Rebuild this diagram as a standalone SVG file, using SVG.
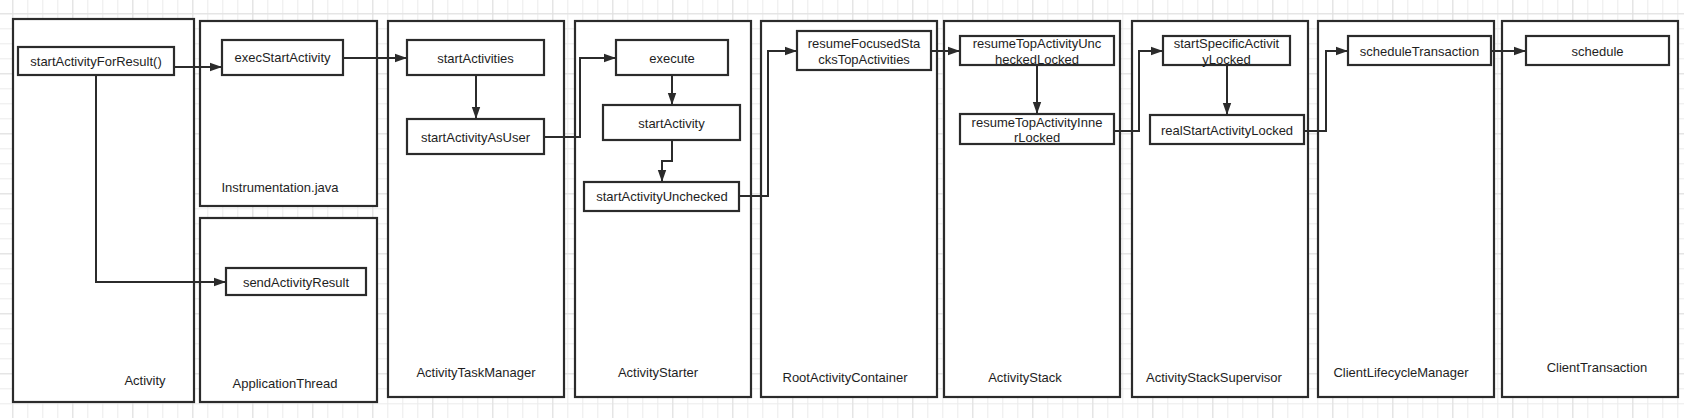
<svg xmlns="http://www.w3.org/2000/svg" width="1684" height="418" viewBox="0 0 1684 418">
  <defs>
    <pattern id="gridMinor" patternUnits="userSpaceOnUse" x="12.3" y="13.3" width="15" height="15">
      <path d="M0,0.5 H15 M0.5,0 V15" fill="none" stroke="#ebebeb" stroke-width="1"/>
    </pattern>
    <pattern id="gridMajor" patternUnits="userSpaceOnUse" x="12.3" y="13.3" width="60" height="60">
      <path d="M0,0.5 H60 M0.5,0 V60" fill="none" stroke="#e0e0e0" stroke-width="1"/>
    </pattern>
    <marker id="arrow" markerUnits="userSpaceOnUse" markerWidth="13" markerHeight="10" refX="12" refY="5" orient="auto">
      <path d="M0,0.8 L12,5 L0,9.2 z" fill="#2b2b2b"/>
    </marker>
  </defs>
  <style>
    .container { fill: #ffffff; stroke: #2b2b2b; stroke-width: 2.2; }
    .method { fill: #ffffff; stroke: #2b2b2b; stroke-width: 2.2; }
    .label { font-family: "Liberation Sans", Arial, sans-serif; font-size: 13px; fill: #1e1e1e; text-anchor: middle; }
    .conn { fill: none; stroke: #2b2b2b; stroke-width: 2; marker-end: url(#arrow); }
  </style>

  <rect x="0" y="0" width="1684" height="418" fill="#ffffff"/>
  <rect x="0" y="0" width="1684" height="418" fill="url(#gridMinor)"/>
  <rect x="0" y="0" width="1684" height="418" fill="url(#gridMajor)"/>

  <!-- Containers -->
  <g id="activity">
    <rect class="container" x="13" y="19" width="181" height="383"/>
    <text class="label" x="145" y="385">Activity</text>
  </g>
  <g id="instrumentation">
    <rect class="container" x="200" y="21" width="177" height="185"/>
    <text class="label" x="280" y="192">Instrumentation.java</text>
  </g>
  <g id="applicationThread">
    <rect class="container" x="200" y="218" width="177" height="184"/>
    <text class="label" x="285" y="388">ApplicationThread</text>
  </g>
  <g id="activityTaskManager">
    <rect class="container" x="388" y="21" width="176" height="376"/>
    <text class="label" x="476" y="377">ActivityTaskManager</text>
  </g>
  <g id="activityStarter">
    <rect class="container" x="575" y="21" width="176" height="376"/>
    <text class="label" x="658" y="377">ActivityStarter</text>
  </g>
  <g id="rootActivityContainer">
    <rect class="container" x="761" y="21" width="176" height="376"/>
    <text class="label" x="845" y="382">RootActivityContainer</text>
  </g>
  <g id="activityStack">
    <rect class="container" x="944" y="21" width="176" height="376"/>
    <text class="label" x="1025" y="382">ActivityStack</text>
  </g>
  <g id="activityStackSupervisor">
    <rect class="container" x="1132" y="21" width="176" height="376"/>
    <text class="label" x="1214" y="382">ActivityStackSupervisor</text>
  </g>
  <g id="clientLifecycleManager">
    <rect class="container" x="1318" y="21" width="176" height="376"/>
    <text class="label" x="1401" y="377">ClientLifecycleManager</text>
  </g>
  <g id="clientTransaction">
    <rect class="container" x="1502" y="21" width="176" height="376"/>
    <text class="label" x="1597" y="372">ClientTransaction</text>
  </g>

  <!-- Method nodes -->
  <g id="startActivityForResult">
    <rect class="method" x="18" y="47" width="156" height="28"/>
    <text class="label" x="96" y="66">startActivityForResult()</text>
  </g>
  <g id="execStartActivity">
    <rect class="method" x="222" y="40" width="121" height="35"/>
    <text class="label" x="282.5" y="62">execStartActivity</text>
  </g>
  <g id="sendActivityResult">
    <rect class="method" x="226" y="268" width="140" height="27"/>
    <text class="label" x="296" y="287">sendActivityResult</text>
  </g>
  <g id="startActivities">
    <rect class="method" x="407" y="40" width="137" height="35"/>
    <text class="label" x="475.5" y="63">startActivities</text>
  </g>
  <g id="startActivityAsUser">
    <rect class="method" x="407" y="119" width="137" height="35"/>
    <text class="label" x="475.5" y="141.5">startActivityAsUser</text>
  </g>
  <g id="execute">
    <rect class="method" x="616" y="40" width="112" height="35"/>
    <text class="label" x="672" y="63">execute</text>
  </g>
  <g id="startActivity">
    <rect class="method" x="603" y="105" width="137" height="35"/>
    <text class="label" x="671.5" y="128">startActivity</text>
  </g>
  <g id="startActivityUnchecked">
    <rect class="method" x="584" y="182" width="155" height="29"/>
    <text class="label" x="662" y="201">startActivityUnchecked</text>
  </g>
  <g id="resumeFocusedStacksTopActivities">
    <rect class="method" x="797" y="31" width="134" height="39"/>
    <text class="label" x="864" y="47.5">resumeFocusedSta</text>
    <text class="label" x="864" y="63.5">cksTopActivities</text>
  </g>
  <g id="resumeTopActivityUncheckedLocked">
    <rect class="method" x="960" y="36" width="154" height="29"/>
    <text class="label" x="1037" y="47.5">resumeTopActivityUnc</text>
    <text class="label" x="1037" y="63.5">heckedLocked</text>
  </g>
  <g id="resumeTopActivityInnerLocked">
    <rect class="method" x="960" y="114" width="154" height="30"/>
    <text class="label" x="1037" y="126.5">resumeTopActivityInne</text>
    <text class="label" x="1037" y="142">rLocked</text>
  </g>
  <g id="startSpecificActivityLocked">
    <rect class="method" x="1163" y="36" width="127" height="29"/>
    <text class="label" x="1226.5" y="47.5">startSpecificActivit</text>
    <text class="label" x="1226.5" y="63.5">yLocked</text>
  </g>
  <g id="realStartActivityLocked">
    <rect class="method" x="1150" y="115" width="154" height="29"/>
    <text class="label" x="1227" y="135">realStartActivityLocked</text>
  </g>
  <g id="scheduleTransaction">
    <rect class="method" x="1348" y="36" width="143" height="29"/>
    <text class="label" x="1419.5" y="56">scheduleTransaction</text>
  </g>
  <g id="schedule">
    <rect class="method" x="1526" y="36" width="143" height="29"/>
    <text class="label" x="1597.5" y="56">schedule</text>
  </g>

  <!-- Connectors -->
  <g id="connectors">
    <path class="conn" d="M174,67 H222"/>
    <path class="conn" d="M96,75 V282 H226"/>
    <path class="conn" d="M343,58 H407"/>
    <path class="conn" d="M476,75 V119"/>
    <path class="conn" d="M544,137 H580 V58 H616"/>
    <path class="conn" d="M672,75 V105"/>
    <path class="conn" d="M672,140 V161 H662 V182"/>
    <path class="conn" d="M739,196 H768 V51 H797"/>
    <path class="conn" d="M931,51 H960"/>
    <path class="conn" d="M1037,65 V114"/>
    <path class="conn" d="M1114,131 H1139 V51 H1163"/>
    <path class="conn" d="M1227,65 V115"/>
    <path class="conn" d="M1304,131 H1326 V51 H1348"/>
    <path class="conn" d="M1491,51 H1526"/>
  </g>
</svg>
